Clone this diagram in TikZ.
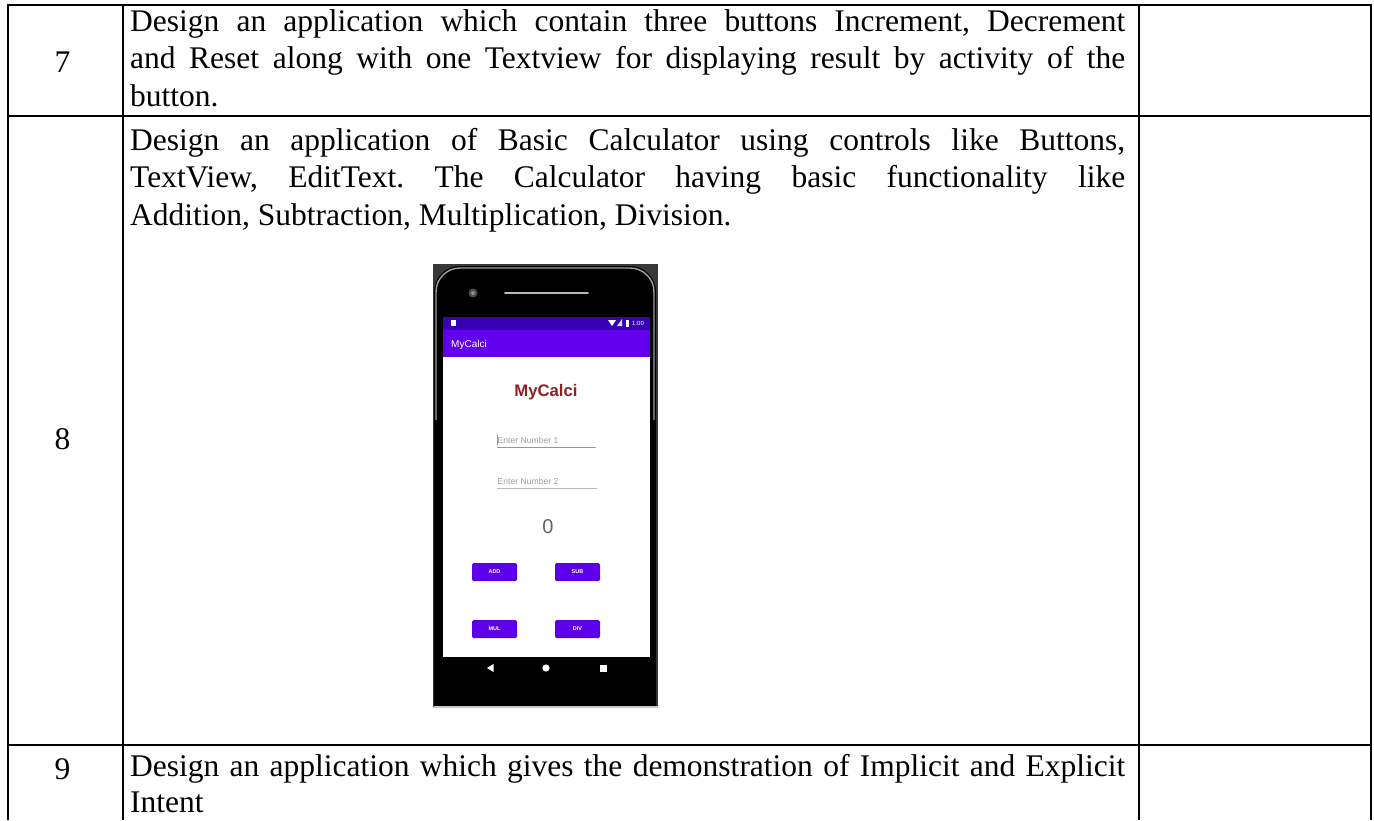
\documentclass[tikz,border=0pt]{standalone}
\usepackage{fontspec}
\setmainfont{Liberation Serif}
\newfontfamily\phonefont{Liberation Sans}
\definecolor{statbar}{HTML}{3700B3}
\definecolor{appbar}{HTML}{6200EE}
\definecolor{btnc}{HTML}{5C00E8}
\definecolor{titlered}{HTML}{8B2222}
\definecolor{accentc}{HTML}{4DB6AC}
\definecolor{hintc}{HTML}{9E9E9E}
\newcommand\jline[1]{\makebox[995pt][s]{#1}}
\frenchspacing
\begin{document}
\begin{tikzpicture}[x=1pt,y=-1pt]
\useasboundingbox (0,0) rectangle (1374,820);
\tikzset{
  gridline/.style={line width=2.4pt, black},
  bodytext/.style={font=\fontsize{31.5}{36}\selectfont, inner sep=0pt, anchor=base west},
  numtext/.style={font=\fontsize{31.5}{36}\selectfont, inner sep=0pt, anchor=base},
  phonetext/.style={inner sep=0pt},
  appbtn/.style={fill=btnc, rounded corners=1.5pt, minimum width=45pt, minimum height=18pt, inner sep=0pt,
     text=white, font=\phonefont\bfseries\fontsize{5.5}{6}\selectfont},
  navicon/.style={fill=white},
}
% table rules
\draw[gridline] (8,5) -- (1371,5);
\draw[gridline] (8,116) -- (1371,116);
\draw[gridline] (8,745) -- (1371,745);
\draw[gridline] (8,4) -- (8,820);
\draw[gridline] (123,4) -- (123,820);
\draw[gridline] (1139,4) -- (1139,820);
\draw[gridline] (1371,4) -- (1371,820);

% numbers
\node[numtext] (n7) at (62.5,72) {7};
\node[numtext] (n8) at (62.5,449) {8};
\node[numtext] (n9) at (62.5,779) {9};

% row 7
\node[bodytext] (r7a) at (130,31) {\jline{Design an application which contain three buttons Increment, Decrement}};
\node[bodytext] (r7b) at (130,68.5) {\jline{and Reset along with one Textview for displaying result by activity of the}};
\node[bodytext] (r7c) at (130,106) {button.};
% row 8
\node[bodytext] (r8a) at (130,150) {\jline{Design an application of Basic Calculator using controls like Buttons,}};
\node[bodytext] (r8b) at (130,187.5) {\jline{TextView, EditText. The Calculator having basic functionality like}};
\node[bodytext] (r8c) at (130,225) {Addition, Subtraction, Multiplication, Division.};
% row 9
\node[bodytext] (r9a) at (130,776) {\jline{Design an application which gives the demonstration of Implicit and Explicit}};
\node[bodytext] (r9b) at (130,812) {Intent};

% ---------- phone screenshot ----------
\fill[black!78] (433,264) rectangle (658,707);
\fill[black] (434,707) -- (434,400) [rounded corners=26pt] -- (434,266) -- (656,266) -- (656,400) [sharp corners] -- (656,707) -- cycle;
\draw[gray!75, line width=1.4pt] (436,420) [rounded corners=24pt] -- (436,268) -- (654,268) -- (654,420);
\draw[gray!45, line width=1.2pt] (433.5,707) -- (658,707);
% camera and speaker
\fill[black!70] (473,293) circle (4.5pt);
\fill[black!45] (473,293) circle (2pt);
\draw[gray!55, line width=1.6pt, line cap=round] (505,293) -- (588,293);
% status bar and app bar
\fill[statbar] (443,317) rectangle (650,330);
\fill[appbar] (443,330) rectangle (650,357);
\fill[white] (443,357) rectangle (650,657);
% status icons
\fill[white] (451,320) rectangle (456,326);
\fill[white] (608,320) -- (616,320) -- (612,326) -- cycle;
\fill[white!85!statbar] (617,326) -- (622,319) -- (622,326) -- cycle;
\fill[white] (626,319.5) rectangle (629,326.5);
\node[phonetext, font=\phonefont\fontsize{6}{7}\selectfont, text=white, anchor=west] (clock) at (632,323.2) {1:00};
\node[phonetext, font=\phonefont\fontsize{10}{12}\selectfont, text=white, anchor=west] (bartitle) at (451,344.5) {MyCalci};
% content
\node[phonetext, font=\phonefont\bfseries\fontsize{16.7}{20}\selectfont, text=titlered] (title) at (546,392) {MyCalci};
\node[phonetext, font=\phonefont\fontsize{8.6}{10}\selectfont, text=hintc, anchor=west] (num1) at (497.5,440.5) {Enter Number 1};
\draw[accentc, line width=1.3pt] (497,447.5) -- (596,447.5);
\draw[accentc, line width=0.8pt] (497.5,435) -- (497.5,445);
\node[phonetext, font=\phonefont\fontsize{8.6}{10}\selectfont, text=hintc, anchor=west] (num2) at (497.5,481.5) {Enter Number 2};
\draw[gray!55, line width=0.9pt] (497,488.5) -- (597,488.5);
\node[phonetext, font=\phonefont\fontsize{20}{24}\selectfont, text=black!60] (result) at (548,527) {0};
\node[appbtn] (add) at (494.5,572) {ADD};
\node[appbtn] (sub) at (577.5,572) {SUB};
\node[appbtn] (mul) at (494.5,629) {MUL};
\node[appbtn] (div) at (577.5,629) {DIV};
% nav bar
\fill[navicon] (487,668) -- (493.5,664) -- (493.5,672) -- cycle;
\fill[navicon] (546,668) circle (3.6pt);
\fill[navicon] (599.5,664.5) rectangle (606.5,671.5);
\end{tikzpicture}
\end{document}
